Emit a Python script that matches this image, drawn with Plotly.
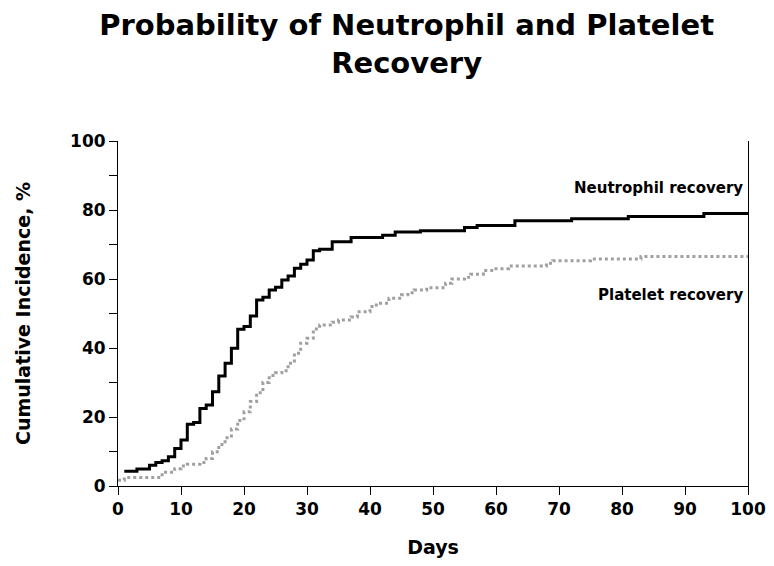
import plotly.graph_objects as go

neut_days = [1, 3, 5, 6, 7, 8, 9, 10, 11, 12, 13, 14, 15, 16, 17, 18, 19, 20, 21, 22, 23, 24, 25, 26,
             27, 28, 29, 30, 31, 32, 34, 37, 42, 44, 48, 55, 57, 63, 72, 81, 93, 100]
neut_vals = [4.3, 4.9, 6.0, 6.8, 7.3, 8.5, 10.9, 13.3, 17.9, 18.4, 22.5, 23.5, 27.3, 31.9, 35.6, 39.9,
             45.4, 46.2, 49.3, 53.9, 54.7, 56.8, 57.6, 59.7, 60.9, 63.1, 64.3, 65.5, 68.2, 68.6, 70.8,
             72.0, 72.7, 73.6, 74.0, 74.9, 75.5, 76.9, 77.5, 78.1, 79.0, 79.0]

plt_days = [0, 1, 7, 9, 10, 11, 13, 14, 15, 16, 17, 18, 19, 20, 21, 22, 23, 24, 25, 26, 27, 28, 29,
            30, 31, 32, 34, 35, 37, 38, 40, 41, 43, 45, 46, 47, 49, 52, 53, 55, 56, 58, 60, 62, 68,
            69, 75, 83, 100]
plt_vals = [1.7, 2.5, 4.0, 5.0, 5.8, 6.3, 6.8, 8.0, 9.9, 12.0, 14.0, 16.5, 19.0, 21.5, 24.5, 27.0,
            30.0, 32.0, 32.8, 33.4, 35.6, 38.5, 41.4, 42.8, 45.5, 46.7, 47.5, 48.1, 49.0, 50.5, 52.0,
            53.0, 54.4, 55.4, 56.0, 56.8, 57.5, 58.8, 60.0, 60.5, 61.4, 62.5, 63.0, 63.8, 64.6, 65.3,
            65.8, 66.5, 66.5]

x_ticks = [0, 10, 20, 30, 40, 50, 60, 70, 80, 90, 100]
y_ticks = [0, 10, 20, 30, 40, 50, 60, 70, 80, 90, 100]
y_tick_text = ["0", "", "20", "", "40", "", "60", "", "80", "", "100"]

FONT = "DejaVu Sans"

fig = go.Figure()
fig.add_trace(go.Scatter(x=plt_days, y=plt_vals, mode="lines", line_shape="hv",
                         line=dict(color="#a0a0a0", width=3, dash="dot"),
                         name="Platelet recovery", showlegend=False))
fig.add_trace(go.Scatter(x=neut_days, y=neut_vals, mode="lines", line_shape="hv",
                         line=dict(color="black", width=3),
                         name="Neutrophil recovery", showlegend=False))

fig.add_annotation(x=1, xref="paper", y=86.5, yref="y", text="Neutrophil recovery",
                   showarrow=False, xanchor="right", xshift=-3,
                   font=dict(family=FONT, size=15, color="black", weight="bold"))
fig.add_annotation(x=1, xref="paper", y=55.5, yref="y", text="Platelet recovery",
                   showarrow=False, xanchor="right", xshift=-3,
                   font=dict(family=FONT, size=15, color="black", weight="bold"))

fig.update_layout(
    width=774, height=566,
    margin=dict(l=110, r=34, t=133, b=88),
    paper_bgcolor="white", plot_bgcolor="white",
    title=dict(text="Probability of Neutrophil and Platelet<br>Recovery",
               x=0.515, xanchor="center", y=0.952, yanchor="top",
               font=dict(family=FONT, size=29, color="black", weight="bold")),
    font=dict(family=FONT, color="black"),
    xaxis=dict(range=[0, 100], tickvals=x_ticks, ticks="outside", ticklen=8, tickwidth=1,
               tickcolor="black", showline=True, linecolor="black", linewidth=1,
               showgrid=False, zeroline=False,
               tickfont=dict(family=FONT, size=17, weight="bold"),
               title=dict(text="Days", standoff=22,
                          font=dict(family=FONT, size=19, weight="bold"))),
    yaxis=dict(range=[0, 100], tickvals=y_ticks, ticktext=y_tick_text, ticks="outside",
               ticklen=8, tickwidth=1, tickcolor="black", showline=True, linecolor="black",
               linewidth=1, mirror=True, showgrid=False, zeroline=False,
               tickfont=dict(family=FONT, size=17, weight="bold"),
               title=dict(text="Cumulative Incidence, %", standoff=34,
                          font=dict(family=FONT, size=19, weight="bold"))),
)

fig.write_html("out.html")
